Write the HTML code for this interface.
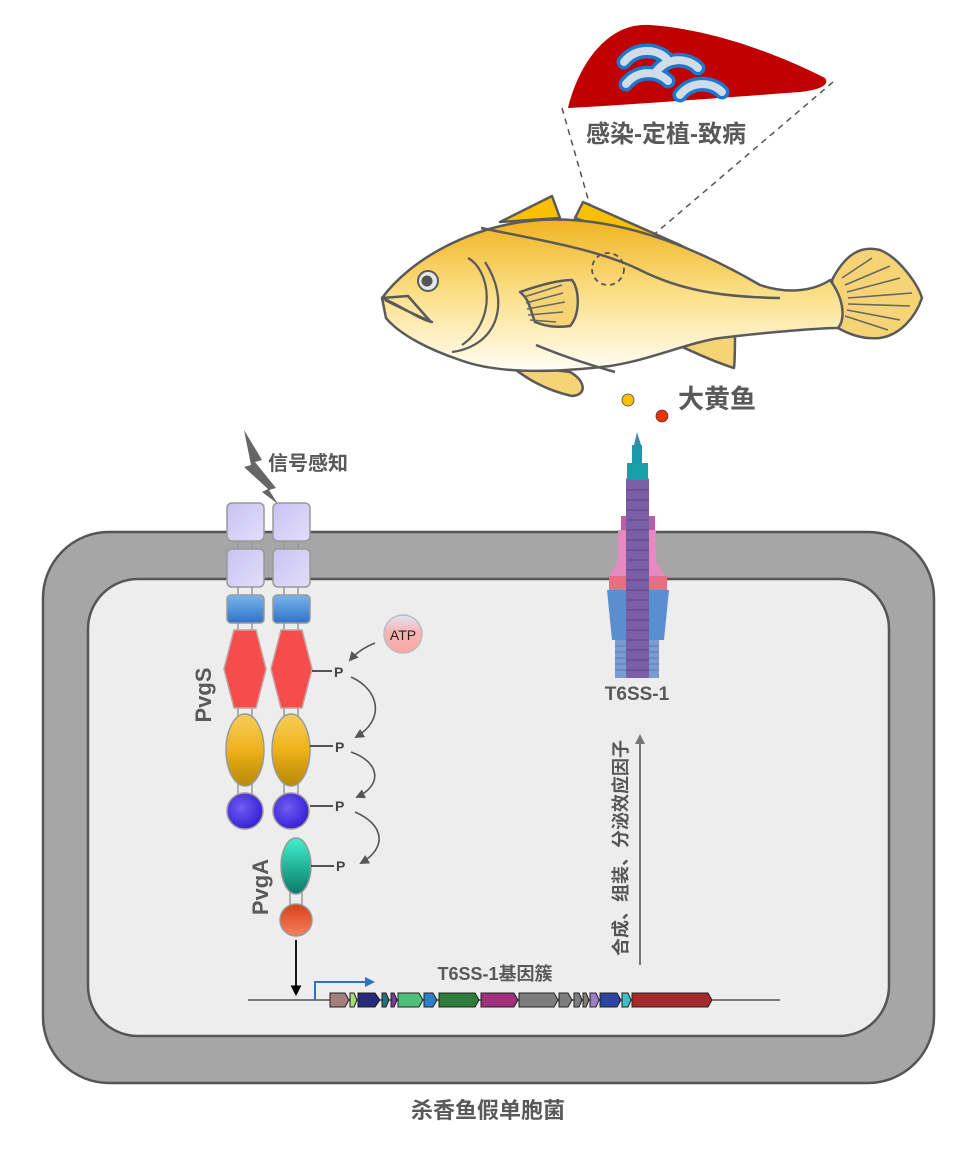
<!DOCTYPE html>
<html><head><meta charset="utf-8"><style>
html,body{margin:0;padding:0;background:#fff}
svg{display:block}
text{font-family:"Liberation Sans","Noto Sans CJK SC",sans-serif;font-weight:bold;fill:#595959}
</style></head><body>
<svg width="967" height="1168" viewBox="0 0 967 1168" xmlns="http://www.w3.org/2000/svg">
<defs>
<linearGradient id="fishg" x1="0" y1="0" x2="0" y2="1">
<stop offset="0" stop-color="#f0b320"/><stop offset="0.5" stop-color="#fbe08a"/><stop offset="1" stop-color="#fffdf5"/></linearGradient>
<linearGradient id="sq" x1="0" y1="0" x2="1" y2="1"><stop offset="0" stop-color="#c8c2f2"/><stop offset="1" stop-color="#e2defa"/></linearGradient>
<linearGradient id="bl" x1="0" y1="0" x2="0" y2="1"><stop offset="0" stop-color="#7ab4ec"/><stop offset="1" stop-color="#2f72c8"/></linearGradient>
<linearGradient id="yl" x1="0" y1="0" x2="0" y2="1"><stop offset="0" stop-color="#f7ce5a"/><stop offset="0.5" stop-color="#eeb21a"/><stop offset="1" stop-color="#b88808"/></linearGradient>
<radialGradient id="pu" cx="0.4" cy="0.4" r="0.6"><stop offset="0" stop-color="#6f5cf0"/><stop offset="1" stop-color="#3a22d8"/></radialGradient>
<linearGradient id="tl" x1="0" y1="0" x2="0" y2="1"><stop offset="0" stop-color="#40f0d0"/><stop offset="1" stop-color="#0a7a66"/></linearGradient>
<linearGradient id="or" x1="0" y1="0" x2="0" y2="1"><stop offset="0" stop-color="#d84018"/><stop offset="1" stop-color="#f58060"/></linearGradient>
<linearGradient id="atp" x1="0" y1="0" x2="0" y2="1"><stop offset="0" stop-color="#e0e4f4"/><stop offset="0.45" stop-color="#f8b4b4"/><stop offset="1" stop-color="#f8a8a8"/></linearGradient>
<marker id="ah" viewBox="0 0 10 10" refX="8" refY="5" markerWidth="6" markerHeight="6" orient="auto"><path d="M0,0 L10,5 L0,10 z" fill="#555"/></marker>
<marker id="ahg" viewBox="0 0 10 10" refX="8" refY="5" markerWidth="5" markerHeight="5" orient="auto"><path d="M0,0 L10,5 L0,10 z" fill="#777"/></marker>
<marker id="ahb" viewBox="0 0 10 10" refX="8" refY="5" markerWidth="6" markerHeight="6" orient="auto"><path d="M0,0 L10,5 L0,10 z" fill="#000"/></marker>
<marker id="ahbl" viewBox="0 0 10 10" refX="5" refY="5" markerWidth="5" markerHeight="5" orient="auto"><path d="M0,0 L10,5 L0,10 z" fill="#2f72c0"/></marker>
</defs>

<rect x="43" y="532" width="891" height="551" rx="66" fill="#a6a6a6" stroke="#555" stroke-width="2.5"/>
<rect x="88" y="579" width="801" height="457" rx="50" fill="#ededed" stroke="#555" stroke-width="2.5"/>
<text x="488" y="1118" font-size="22" text-anchor="middle">杀香鱼假单胞菌</text>

<path d="M568,108 C580,60 610,22 650,25 C720,30 790,60 825,78 C830,85 820,90 800,92 C720,98 640,104 568,108 Z" fill="#c00000"/>
<g fill="none" stroke-linecap="round">
<g stroke="#1a78d0" stroke-width="15">
<path d="M624,62 C635,48 655,48 666,58"/>
<path d="M656,72 C667,57 687,57 698,68"/>
<path d="M626,84 C637,70 657,70 668,81"/>
<path d="M680,95 C691,81 711,81 722,92"/>
</g>
<g stroke="#d0dde8" stroke-width="8">
<path d="M624,62 C635,48 655,48 666,58"/>
<path d="M656,72 C667,57 687,57 698,68"/>
<path d="M626,84 C637,70 657,70 668,81"/>
<path d="M680,95 C691,81 711,81 722,92"/>
</g>
</g>
<text x="666" y="142" font-size="24" text-anchor="middle">感染-定植-致病</text>
<line x1="562" y1="108" x2="605" y2="258" stroke="#555" stroke-width="1.5" stroke-dasharray="6,5"/>
<line x1="833" y1="82" x2="610" y2="272" stroke="#555" stroke-width="1.5" stroke-dasharray="6,5"/>

<g stroke="#5a5a5a" stroke-width="2.5" stroke-linejoin="round">
<path d="M500,222 L552,196 L560,218 Z" fill="#f8c000"/>
<path d="M575,218 L583,202 L680,245 L730,272 Z" fill="#f8c000"/>
<path d="M832,280 C845,255 860,245 880,250 C900,258 918,285 922,298 C915,318 900,335 880,338 C860,340 845,332 838,328 Z" fill="#f6d475"/>
<path d="M678,338 C700,335 725,335 735,330 C735,345 735,360 734,368 C715,362 700,355 678,345 Z" fill="#f6d475"/>
<path d="M510,365 C530,368 555,370 570,372 C585,380 588,395 572,396 C545,390 525,378 510,365 Z" fill="#f6d475"/>
<path d="M382,298 C410,260 470,225 540,220 C620,215 700,250 760,285 C790,295 815,290 830,280 C845,300 845,320 838,328 C820,328 770,332 720,338 C690,342 650,360 610,366 C560,372 500,375 460,360 C430,350 400,335 386,318 Z" fill="url(#fishg)"/>
<path d="M536,345 C560,355 590,365 615,372" fill="none"/>
<path d="M520,292 C540,285 560,280 572,280 C580,290 580,315 570,326 C555,328 545,326 535,322 C530,310 530,300 520,292 Z" fill="#f6d475"/>
<path d="M382,298 C400,305 420,320 432,322 C415,315 395,305 385,300" fill="#f8c000"/>
<path d="M382,298 L408,296 L430,321" fill="none"/>
<path d="M481,228 C540,240 600,250 640,270 C680,290 720,297 780,298" fill="none"/>
<path d="M468,258 C490,270 498,320 462,345 M452,352 C500,345 510,300 485,262" fill="none" stroke-width="2.2"/>
</g>
<g stroke="#666" stroke-width="1.6">
<line x1="524" y1="297" x2="562" y2="285"/><line x1="526" y1="303" x2="563" y2="293"/><line x1="527" y1="309" x2="565" y2="302"/><line x1="528" y1="315" x2="563" y2="312"/><line x1="530" y1="320" x2="556" y2="322"/>
<line x1="842" y1="278" x2="872" y2="258"/><line x1="845" y1="285" x2="890" y2="266"/><line x1="847" y1="292" x2="900" y2="278"/><line x1="848" y1="298" x2="912" y2="293"/><line x1="848" y1="304" x2="910" y2="306"/><line x1="847" y1="310" x2="900" y2="320"/><line x1="845" y1="316" x2="888" y2="330"/>
</g>
<circle cx="428" cy="281" r="10" fill="#e6e6e6" stroke="#5a5a5a" stroke-width="2"/>
<circle cx="427" cy="281" r="5.5" fill="#555"/>
<circle cx="608" cy="269" r="16" fill="none" stroke="#555" stroke-width="1.8" stroke-dasharray="5,4"/>
<circle cx="628" cy="400" r="6" fill="#f8c000" stroke="#444" stroke-width="0.8"/>
<circle cx="662" cy="416" r="6" fill="#f03000" stroke="#444" stroke-width="0.8"/>
<text x="678" y="408" font-size="26">大黄鱼</text>

<path d="M244,430 L262,460 L255,462 L276,488 L269,490 L278,504 L262,492 L268,489 L244,467 L251,465 Z" fill="#666"/>
<text x="268" y="470" font-size="20">信号感知</text>

<g stroke="#999" stroke-width="1.5" fill="none">
<line x1="238" y1="540" x2="238" y2="720"/><line x1="252" y1="540" x2="252" y2="720"/>
<line x1="284" y1="540" x2="284" y2="720"/><line x1="298" y1="540" x2="298" y2="720"/>
<line x1="238" y1="780" x2="238" y2="800"/><line x1="252" y1="780" x2="252" y2="800"/>
<line x1="284" y1="780" x2="284" y2="800"/><line x1="298" y1="780" x2="298" y2="800"/>
<line x1="290" y1="885" x2="290" y2="905"/><line x1="302" y1="885" x2="302" y2="905"/>
</g>
<g stroke="#999" stroke-width="1.5">
<rect x="227" y="503" width="37" height="38" rx="5" fill="url(#sq)"/>
<rect x="273" y="503" width="37" height="38" rx="5" fill="url(#sq)"/>
<rect x="227" y="549" width="37" height="38" rx="5" fill="url(#sq)"/>
<rect x="273" y="549" width="37" height="38" rx="5" fill="url(#sq)"/>
<rect x="227" y="595" width="37" height="28" rx="4" fill="url(#bl)"/>
<rect x="273" y="595" width="37" height="28" rx="4" fill="url(#bl)"/>
<polygon points="234,630 256,630 266,669 256,708 234,708 224,669" fill="#f54c4c" stroke="#c8a0a0"/>
<polygon points="281,630 302,630 312,669 302,708 281,708 271,669" fill="#f54c4c" stroke="#c8a0a0"/>
<ellipse cx="245" cy="750" rx="19" ry="36" fill="url(#yl)"/>
<ellipse cx="291" cy="750" rx="19" ry="36" fill="url(#yl)"/>
<circle cx="245" cy="811" r="18" fill="url(#pu)"/>
<circle cx="291" cy="811" r="18" fill="url(#pu)"/>
<ellipse cx="296" cy="866" rx="15" ry="28" fill="url(#tl)"/>
<circle cx="296" cy="920" r="16" fill="url(#or)"/>
</g>
<text transform="translate(211,695) rotate(-90)" font-size="22" text-anchor="middle">PvgS</text>
<text transform="translate(268,887) rotate(-90)" font-size="22" text-anchor="middle">PvgA</text>

<g stroke="#222" stroke-width="1.5">
<line x1="312" y1="671" x2="332" y2="671"/><line x1="310" y1="746" x2="333" y2="746"/>
<line x1="310" y1="806" x2="333" y2="806"/><line x1="311" y1="866" x2="334" y2="866"/>
</g>
<g font-size="14">
<text x="334" y="677" style="fill:#444">P</text><text x="335" y="752" style="fill:#444">P</text>
<text x="335" y="811" style="fill:#444">P</text><text x="336" y="871" style="fill:#444">P</text>
</g>
<circle cx="403" cy="634" r="19" fill="url(#atp)" stroke="#bbb" stroke-width="1.5"/>
<text x="403" y="640" font-size="14" text-anchor="middle" style="font-weight:normal;fill:#222">ATP</text>
<g fill="none" stroke="#555" stroke-width="1.6">
<path d="M375,643 C365,647 357,652 350,660" marker-end="url(#ah)"/>
<path d="M351,677 C380,690 385,720 356,737" marker-end="url(#ah)"/>
<path d="M351,752 C380,762 383,785 357,797" marker-end="url(#ah)"/>
<path d="M355,812 C385,825 387,848 361,863" marker-end="url(#ah)"/>
</g>

<g>
<rect x="621" y="516" width="34" height="78" fill="#b04ea0" opacity="0.9"/>
<path d="M618,530 L626,530 L626,560 L634,575 L640,575 L648,560 L648,530 L656,530 L656,560 L664,575 L664,590 L610,590 L610,575 L618,560 Z" fill="#e48ac0"/>
<rect x="609" y="576" width="58" height="14" fill="#e86e88"/>
<path d="M607,590 L632,590 L630,640 L612,640 Z" fill="#5a8ed0"/>
<path d="M644,590 L669,590 L664,640 L646,640 Z" fill="#5a8ed0"/>
<rect x="615" y="640" width="44" height="38" fill="#7a9cd0"/>
<g stroke="#5c7ab8" stroke-width="1"><line x1="615" y1="646" x2="659" y2="646"/><line x1="615" y1="652" x2="659" y2="652"/><line x1="615" y1="658" x2="659" y2="658"/><line x1="615" y1="664" x2="659" y2="664"/><line x1="615" y1="670" x2="659" y2="670"/></g>
<rect x="626" y="478" width="23" height="200" rx="2" fill="#7a5ea6"/>
<g stroke="#5e4488" stroke-width="1">
<line x1="626" y1="490" x2="649" y2="490"/><line x1="626" y1="500" x2="649" y2="500"/><line x1="626" y1="510" x2="649" y2="510"/><line x1="626" y1="520" x2="649" y2="520"/><line x1="626" y1="530" x2="649" y2="530"/><line x1="626" y1="540" x2="649" y2="540"/><line x1="626" y1="550" x2="649" y2="550"/><line x1="626" y1="560" x2="649" y2="560"/><line x1="626" y1="570" x2="649" y2="570"/><line x1="626" y1="580" x2="649" y2="580"/><line x1="626" y1="590" x2="649" y2="590"/><line x1="626" y1="600" x2="649" y2="600"/><line x1="626" y1="610" x2="649" y2="610"/><line x1="626" y1="620" x2="649" y2="620"/><line x1="626" y1="630" x2="649" y2="630"/><line x1="626" y1="640" x2="649" y2="640"/><line x1="626" y1="650" x2="649" y2="650"/><line x1="626" y1="660" x2="649" y2="660"/><line x1="626" y1="670" x2="649" y2="670"/>
</g>
<path d="M634,445 L637,432 L641,445 Z" fill="#3a8aa8"/>
<rect x="632" y="445" width="10" height="20" fill="#1a9aa8"/>
<rect x="627" y="463" width="21" height="17" fill="#16a0a8"/>
</g>
<text x="637" y="700" font-size="19" text-anchor="middle">T6SS-1</text>

<line x1="640" y1="965" x2="640" y2="736" stroke="#777" stroke-width="2" marker-end="url(#ahg)"/>
<text transform="translate(627,848) rotate(-90)" font-size="18" text-anchor="middle" style="fill:#555">合成、组装、分泌效应因子</text>

<line x1="248" y1="1000" x2="780" y2="1000" stroke="#555" stroke-width="1.5"/>
<line x1="296" y1="940" x2="296" y2="994" stroke="#000" stroke-width="1.8" marker-end="url(#ahb)"/>
<path d="M315,1000 L315,982 L370,982" fill="none" stroke="#2f72c0" stroke-width="2" marker-end="url(#ahbl)"/>
<text x="495" y="980" font-size="18" text-anchor="middle">T6SS-1基因簇</text>
<g stroke="#222" stroke-width="1">
<polygon points="330,993 345,993 349,1000 345,1007 330,1007" fill="#a67f7a"/>
<polygon points="350,993 354,993 357,1000 354,1007 350,1007" fill="#a8d878"/>
<polygon points="358,993 375,993 380,1000 375,1007 358,1007" fill="#262a7a"/>
<polygon points="382,993 386,993 389,1000 386,1007 382,1007" fill="#236f7a"/>
<polygon points="391,993 394,993 397,1000 394,1007 391,1007" fill="#7a3a9a"/>
<polygon points="398,993 419,993 423,1000 419,1007 398,1007" fill="#4fbf7a"/>
<polygon points="424,993 433,993 437,1000 433,1007 424,1007" fill="#2f7ec8"/>
<polygon points="439,993 475,993 479,1000 475,1007 439,1007" fill="#2e7d3a"/>
<polygon points="481,993 514,993 518,1000 514,1007 481,1007" fill="#a0307a"/>
<polygon points="519,993 554,993 558,1000 554,1007 519,1007" fill="#7d7d7d"/>
<polygon points="559,993 568,993 572,1000 568,1007 559,1007" fill="#7d7d7d"/>
<polygon points="574,993 579,993 582,1000 579,1007 574,1007" fill="#7d7d7d"/>
<polygon points="583,993 586,993 589,1000 586,1007 583,1007" fill="#7d7d7d"/>
<polygon points="590,993 596,993 599,1000 596,1007 590,1007" fill="#9b7fc4"/>
<polygon points="600,993 617,993 621,1000 617,1007 600,1007" fill="#2b45a0"/>
<polygon points="622,993 628,993 631,1000 628,1007 622,1007" fill="#3fbdc8"/>
<polygon points="632,993 708,993 712,1000 708,1007 632,1007" fill="#a52a2a"/>
</g>
</svg>
</body></html>
